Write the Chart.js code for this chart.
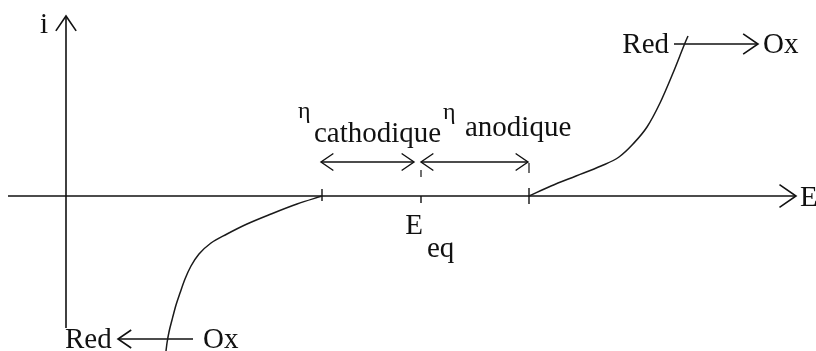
<!DOCTYPE html>
<html>
<head>
<meta charset="utf-8">
<script src="https://cdn.jsdelivr.net/npm/chart.js@4.4.1/dist/chart.umd.min.js"></script>
<style>
  html, body { margin: 0; padding: 0; background: #fff; }
  #wrap { width: 816px; height: 351px; }
</style>
</head>
<body>
<div id="wrap"><canvas id="curve" width="816" height="351"></canvas></div>
<script>
// i = f(E) branches, E relative to E_eq
const cathodicE = [-2.55, -2.54, -2.52, -2.49, -2.45, -2.41, -2.36, -2.30, -2.22, -2.10, -1.94, -1.74, -1.50, -1.24, -0.99];
const cathodicI = [-1.55, -1.47, -1.36, -1.24, -1.09, -0.97, -0.83, -0.70, -0.58, -0.47, -0.38, -0.28, -0.18, -0.08, 0];
const anodicE = [1.08, 1.30, 1.55, 1.80, 1.98, 2.12, 2.26, 2.39, 2.52, 2.64, 2.67];
const anodicI = [0, 0.10, 0.20, 0.30, 0.39, 0.52, 0.69, 0.93, 1.23, 1.53, 1.60];

// marked potentials on the E axis
const eqPotential = 0;
const cathodicStart = -0.99;
const anodicStart = 1.08;

const toPoints = (xs, ys) => xs.map((x, k) => ({ x: x, y: ys[k] }));

const FONT = '"Liberation Serif", "Times New Roman", serif';

// open "V" arrow head with its tip at (x, y), pointing along angle
function arrowHead(ctx, x, y, angle, len) {
  const spread = 0.6;
  ctx.beginPath();
  ctx.moveTo(x - len * Math.cos(angle - spread), y - len * Math.sin(angle - spread));
  ctx.lineTo(x, y);
  ctx.lineTo(x - len * Math.cos(angle + spread), y - len * Math.sin(angle + spread));
  ctx.stroke();
}

function line(ctx, x1, y1, x2, y2) {
  ctx.beginPath();
  ctx.moveTo(x1, y1);
  ctx.lineTo(x2, y2);
  ctx.stroke();
}

function text(ctx, str, x, y, size, align) {
  ctx.font = size + 'px ' + FONT;
  ctx.textAlign = align || 'left';
  ctx.textBaseline = 'alphabetic';
  ctx.fillText(str, x, y);
}

const diagram = {
  id: 'diagram',
  beforeDatasetsDraw(chart) {
    const ctx = chart.ctx;
    const sx = v => chart.scales.x.getPixelForValue(v);
    const sy = v => chart.scales.y.getPixelForValue(v);
    const y0 = sy(0);
    const xi = sx(-3.55);

    ctx.save();
    ctx.strokeStyle = '#111';
    ctx.fillStyle = '#111';
    ctx.lineWidth = 1.6;

    // E axis
    const xEnd = sx(3.75);
    line(ctx, sx(-4.13), y0, xEnd, y0);
    arrowHead(ctx, xEnd, y0, 0, 20);

    // i axis
    const yTop = sy(1.8);
    line(ctx, xi, sy(-1.32), xi, yTop);
    arrowHead(ctx, xi, yTop, -Math.PI / 2, 18);

    // ticks on the E axis
    ctx.lineWidth = 1.4;
    line(ctx, sx(cathodicStart), y0 - 7, sx(cathodicStart), y0 + 5);
    line(ctx, sx(eqPotential), y0, sx(eqPotential), y0 + 7);
    line(ctx, sx(anodicStart), y0 - 8, sx(anodicStart), y0 + 8);

    // overpotential arrows
    const ya = sy(0.34);
    line(ctx, sx(cathodicStart) - 1, ya, sx(eqPotential) - 7, ya);
    arrowHead(ctx, sx(cathodicStart) - 1, ya, Math.PI, 15);
    arrowHead(ctx, sx(eqPotential) - 7, ya, 0, 15);
    line(ctx, sx(eqPotential), ya, sx(anodicStart) - 1, ya);
    arrowHead(ctx, sx(eqPotential), ya, Math.PI, 15);
    arrowHead(ctx, sx(anodicStart) - 1, ya, 0, 15);
    ctx.lineWidth = 1.2;
    line(ctx, sx(eqPotential), ya + 8, sx(eqPotential), ya + 15);
    line(ctx, sx(anodicStart), ya + 1, sx(anodicStart), ya + 11);

    // Red -> Ox (oxidation) and Red <- Ox (reduction)
    ctx.lineWidth = 1.6;
    const yOx = sy(1.52);
    line(ctx, sx(2.53), yOx, sx(3.37), yOx);
    arrowHead(ctx, sx(3.37), yOx, 0, 18);
    const yRed = sy(-1.43);
    line(ctx, sx(-2.28), yRed, sx(-3.03), yRed);
    arrowHead(ctx, sx(-3.03), yRed, Math.PI, 16);

    // labels
    text(ctx, 'i', xi - 18, sy(1.8) + 17, 29, 'right');
    text(ctx, 'E', xEnd + 4, y0 + 10, 29);
    text(ctx, 'Red', sx(2.53) - 5, yOx + 9, 29, 'right');
    text(ctx, 'Ox', sx(3.37) + 5, yOx + 9, 29);
    text(ctx, 'Red', xi - 1, yRed + 9, 29);
    text(ctx, 'Ox', sx(-2.28) + 10, yRed + 9, 29);
    text(ctx, 'E', sx(eqPotential) + 2, y0 + 38, 29, 'right');
    text(ctx, 'eq', sx(eqPotential) + 6, y0 + 61, 29);
    text(ctx, '\u03b7', sx(cathodicStart) - 24, ya - 44, 24);
    text(ctx, 'cathodique', sx(cathodicStart) - 8, ya - 20, 29);
    text(ctx, '\u03b7', sx(eqPotential) + 22, ya - 43, 24);
    text(ctx, 'anodique', sx(eqPotential) + 44, ya - 26, 29);
    ctx.restore();
  }
};

new Chart(document.getElementById('curve'), {
  type: 'scatter',
  data: {
    datasets: [
      {
        label: 'cathodique',
        data: toPoints(cathodicE, cathodicI),
        showLine: true,
        borderColor: '#1a1a1a',
        borderWidth: 1.5,
        pointRadius: 0,
        cubicInterpolationMode: 'monotone',
        fill: false
      },
      {
        label: 'anodique',
        data: toPoints(anodicE, anodicI),
        showLine: true,
        borderColor: '#1a1a1a',
        borderWidth: 1.5,
        pointRadius: 0,
        cubicInterpolationMode: 'monotone',
        fill: false
      }
    ]
  },
  options: {
    responsive: false,
    animation: false,
    clip: false,
    layout: { padding: 0 },
    plugins: {
      legend: { display: false },
      tooltip: { enabled: false }
    },
    scales: {
      x: { type: 'linear', display: false, min: -4.21, max: 3.95 },
      y: { type: 'linear', display: false, min: -1.55, max: 1.96 }
    }
  },
  plugins: [diagram]
});
</script>
</body>
</html>
